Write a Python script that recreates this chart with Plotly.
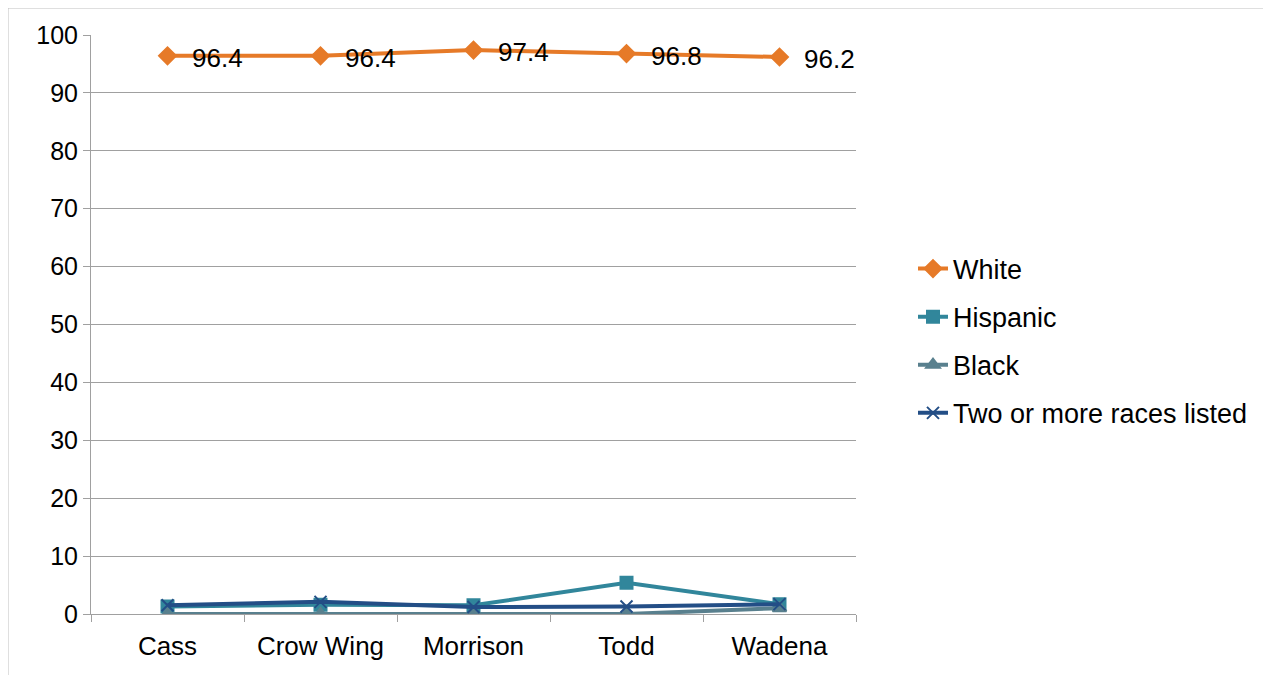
import plotly.graph_objects as go

counties = ["Cass", "Crow Wing", "Morrison", "Todd", "Wadena"]
white = [96.4, 96.4, 97.4, 96.8, 96.2]
hispanic = [1.3, 1.6, 1.5, 5.4, 1.7]
black = [0.0, 0.0, 0.0, 0.0, 1.0]
two_or_more = [1.5, 2.1, 1.2, 1.3, 1.7]
y_ticks = [0, 10, 20, 30, 40, 50, 60, 70, 80, 90, 100]

FONT = "Liberation Sans, Arial, sans-serif"

series = [
    ("White", white, "#E67A28", "diamond", 13),
    ("Hispanic", hispanic, "#31869B", "square", 12),
    ("Black", black, "#59808E", "triangle-up", 12),
    ("Two or more races listed", two_or_more, "#234E86", "x-thin-open", 12),
]

L, R, T, B = 83, 423, 27, 69
W, H = 1271, 675
PW = W - L - R
PH = H - T - B

fig = go.Figure()
for i, (name, vals, color, sym, size) in enumerate(series):
    fig.add_trace(go.Scatter(
        x=counties, y=vals, name=name, mode="lines+markers",
        line=dict(color=color, width=4),
        marker=dict(symbol=sym, size=size, color=color,
                    line=dict(color=color, width=2)),
        legendgroup=f"g{i}",
    ))

for c, v in zip(counties, white):
    fig.add_annotation(x=c, y=v, text=f"{v}", showarrow=False,
                       xanchor="left", yanchor="middle", xshift=22, yshift=-2,
                       font=dict(family=FONT, size=26, color="#000000"))

fig.update_layout(
    width=W, height=H,
    margin=dict(l=L, r=R, t=T, b=B),
    paper_bgcolor="white", plot_bgcolor="white",
    font=dict(family=FONT, size=26, color="#000000"),
    showlegend=True,
    legend=dict(x=(913 - 91) / PW, y=(606 - 333) / PH, xanchor="left", yanchor="middle",
                font=dict(family=FONT, size=27, color="#000000"),
                tracegroupgap=10, bgcolor="rgba(0,0,0,0)"),
    xaxis=dict(range=[-0.5, 4.5], showgrid=False, showline=True,
               linecolor="#A0A0A0", linewidth=1,
               ticks="outside", tickson="boundaries", ticklen=7,
               ticklabelstandoff=9,
               tickcolor="#A0A0A0", tickfont=dict(size=26), zeroline=False),
    yaxis=dict(range=[0, 100], tickvals=y_ticks, showgrid=True,
               gridcolor="#A0A0A0", gridwidth=1, showline=True,
               linecolor="#A0A0A0", linewidth=1, ticks="outside", ticklen=7,
               tickcolor="#A0A0A0", tickfont=dict(size=25), zeroline=False),
    shapes=[dict(type="rect", xref="paper", yref="paper",
                 x0=-L / PW, x1=1 + (R + 20) / PW, y0=-(B + 20) / PH, y1=1 + T / PH,
                 line=dict(color="#BFBFBF", width=1), layer="below")],
)

fig.write_html("out.html")
